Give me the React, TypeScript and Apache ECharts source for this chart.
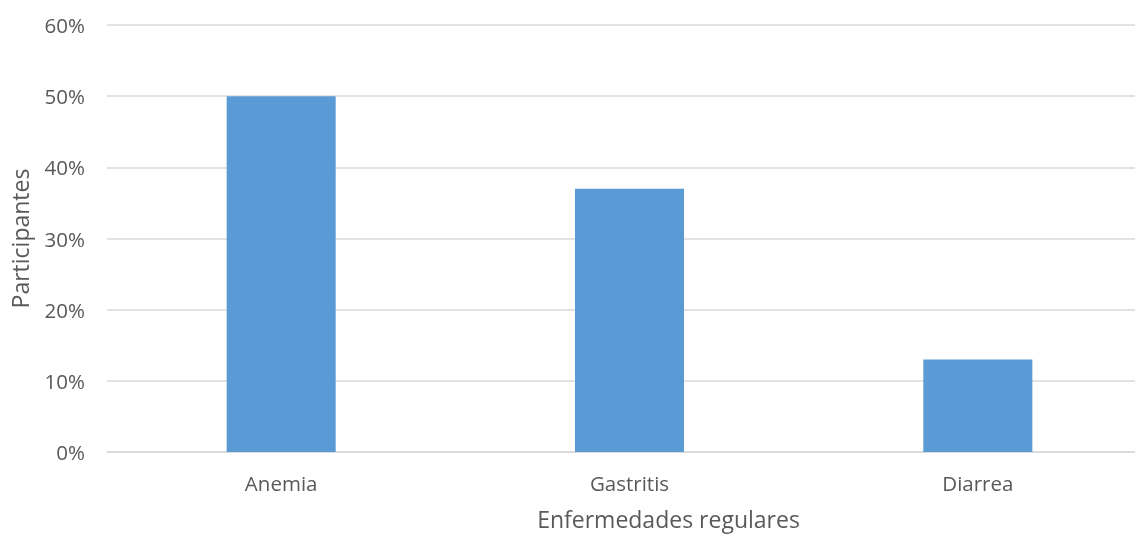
import React, { useEffect, useRef } from "react";
import * as echarts from "echarts";

const categories = ["Anemia", "Gastritis", "Diarrea"];
const values = [50, 37, 13];
const yTicks = [0, 10, 20, 30, 40, 50, 60];

export default function App() {
  const ref = useRef<HTMLDivElement>(null);
  useEffect(() => {
    const chart = echarts.init(ref.current!, null, { renderer: "svg" });
    chart.setOption({
      animation: false,
      textStyle: { fontFamily: "Open Sans" },
      grid: { left: 107, top: 25, width: 1045, height: 427, outerBoundsMode: "none", containLabel: false },
      xAxis: {
        type: "category",
        data: categories,
        name: "Enfermedades regulares",
        nameLocation: "middle",
        nameGap: 55,
        nameTextStyle: { fontSize: 23, color: "#595959", fontFamily: "Open Sans", padding: [0, 0, 0, 78] },
        axisLine: { lineStyle: { color: "#D9D9D9", width: 1.5 } },
        axisTick: { show: false },
        axisLabel: { fontSize: 20.5, color: "#595959", margin: 20, fontFamily: "Open Sans" },
      },
      yAxis: {
        type: "value",
        min: yTicks[0],
        max: yTicks[yTicks.length - 1],
        interval: 10,
        name: "Participantes",
        nameLocation: "middle",
        nameGap: 76,
        nameTextStyle: { fontSize: 23, color: "#595959", fontFamily: "Open Sans" },
        axisLine: { show: false },
        axisTick: { show: false },
        axisLabel: { fontSize: 20.5, color: "#595959", margin: 22, formatter: "{value}%", fontFamily: "Open Sans" },
        splitLine: { lineStyle: { color: "#D9D9D9", width: 1.5 } },
      },
      series: [
        {
          type: "bar",
          data: values,
          barWidth: "31.3%",
          itemStyle: { color: "#5B9BD5" },
        },
      ],
    });
    return () => chart.dispose();
  }, []);
  return <div ref={ref} style={{ position: "fixed", left: 0, top: 0, width: 1135, height: 535 }} />;
}
